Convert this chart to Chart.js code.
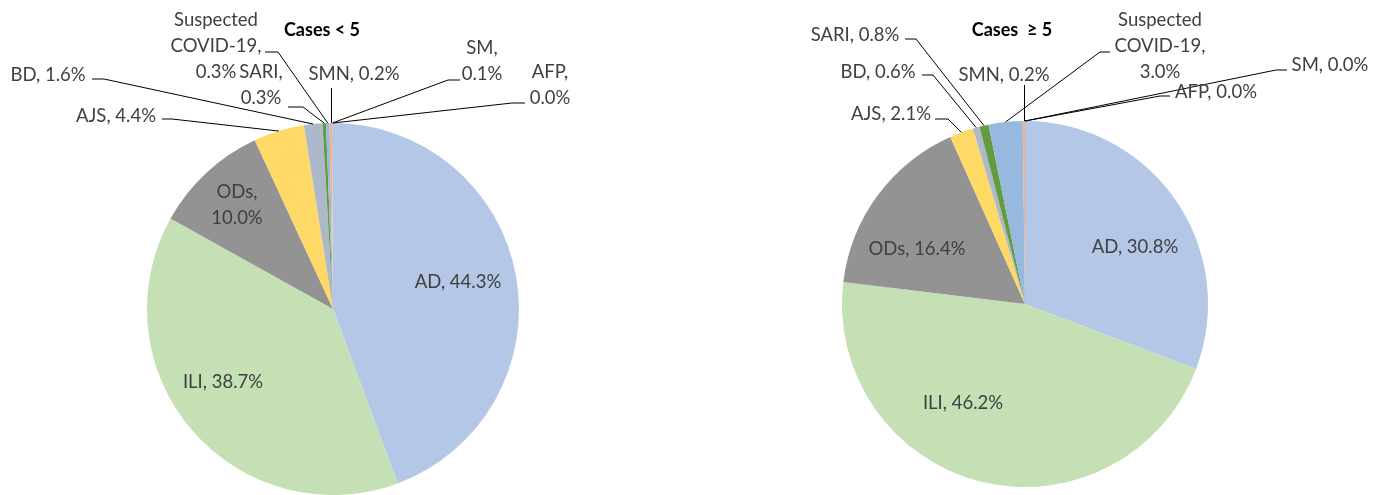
<!DOCTYPE html>
<html>
<head>
<meta charset="utf-8">
<script src="https://cdn.jsdelivr.net/npm/chart.js@4.4.1/dist/chart.umd.min.js"></script>
<style>
  html, body { margin: 0; padding: 0; background: #fff; }
  #wrap { position: relative; width: 1380px; height: 495px; }
  #wrap canvas { position: absolute; left: 0; top: 0; }
</style>
</head>
<body>
<div id="wrap">
  <canvas id="pieUnder5" width="1380" height="495"></canvas>
  <canvas id="pieOver5" width="1380" height="495"></canvas>
</div>
<script>
// data (percent of cases)
const categories = ['AD', 'ILI', 'ODs', 'AJS', 'BD', 'SARI', 'Suspected COVID-19', 'SMN', 'SM', 'AFP'];
const casesUnder5 = [44.3, 38.7, 10.0, 4.4, 1.6, 0.3, 0.3, 0.2, 0.1, 0.0];
const casesOver5 = [30.8, 46.2, 16.4, 2.1, 0.6, 0.8, 3.0, 0.2, 0.0, 0.0];
const chartTitles = ['Cases < 5', 'Cases  \u2265 5'];

const sliceColors = ['#B4C7E7', '#C5E0B4', '#939393', '#FFD966', '#ADB9CA',
                     '#639B3F', '#97B9E0', '#F4B183', '#C9C9C9', '#FFE699'];

const FONT = 'Lato, "Open Sans", sans-serif';
const LINE = 26;

// label placement: x = text centre, y = centre of first line
// split: 0 one line, 1 name / value, 2 every word on its own line
// stub: [x1, x2, y] short horizontal piece before the leader goes to the slice
// down: leader drops from this y straight to the slice
const layoutUnder5 = [
  { x: 458, y: 282 },
  { x: 223, y: 382 },
  { x: 237, y: 192, split: 1 },
  { x: 116, y: 116, stub: [162, 172, 119] },
  { x: 48, y: 75, stub: [92, 104, 79] },
  { x: 261, y: 72, split: 1, stub: [288, 303, 107] },
  { x: 216, y: 20, split: 2, stub: [265, 278, 52] },
  { x: 354, y: 74, down: 88 },
  { x: 482, y: 48, split: 1, stub: [460, 448, 80] },
  { x: 550, y: 72, split: 1, stub: [525, 512, 103] }
];
const layoutOver5 = [
  { x: 1135, y: 247 },
  { x: 963, y: 403 },
  { x: 917, y: 249 },
  { x: 891, y: 114, stub: [935, 948, 119] },
  { x: 878, y: 72, stub: [922, 933, 75] },
  { x: 855, y: 35, stub: [905, 916, 39] },
  { x: 1160, y: 20, split: 2, stub: [1110, 1100, 52] },
  { x: 1004, y: 75, down: 85 },
  { x: 1330, y: 65, stub: [1287, 1276, 70] },
  { x: 1216, y: 92, stub: [1170, 1160, 96] }
];

function labelLines(name, value, split) {
  const pct = value.toFixed(1) + '%';
  if (split === 1) return [name + ',', pct];
  if (split === 2) {
    const words = name.split(' ');
    words[words.length - 1] += ',';
    return words.concat([pct]);
  }
  return [name + ', ' + pct];
}

const pieLabels = {
  id: 'pieLabels',
  afterDraw(chart, args, opts) {
    const ctx = chart.ctx;
    const meta = chart.getDatasetMeta(0);
    const values = chart.data.datasets[0].data;
    ctx.save();
    ctx.textAlign = 'center';
    ctx.textBaseline = 'middle';

    ctx.fillStyle = '#000';
    ctx.font = 'bold 18px ' + FONT;
    ctx.fillText(opts.title, opts.titleX, opts.titleY);

    ctx.font = '18.5px ' + FONT;
    ctx.strokeStyle = '#000';
    ctx.lineWidth = 1;
    opts.layout.forEach((lab, i) => {
      const arc = meta.data[i];
      const lines = labelLines(chart.data.labels[i], values[i], lab.split || 0);
      ctx.fillStyle = '#404040';
      lines.forEach((t, k) => ctx.fillText(t, lab.x, lab.y + k * LINE));

      const mid = (arc.startAngle + arc.endAngle) / 2;
      const ax = arc.x + Math.cos(mid) * arc.outerRadius;
      const ay = arc.y + Math.sin(mid) * arc.outerRadius;
      ctx.beginPath();
      if (lab.stub) {
        ctx.moveTo(lab.stub[0], lab.stub[2]);
        ctx.lineTo(lab.stub[1], lab.stub[2]);
        ctx.lineTo(ax, ay);
        ctx.stroke();
      } else if (lab.down) {
        ctx.moveTo(Math.round(ax) + 0.5, lab.down);
        ctx.lineTo(Math.round(ax) + 0.5, ay);
        ctx.stroke();
      }
    });
    ctx.restore();
  }
};

function makePie(id, values, title, titleX, layout, padding) {
  return new Chart(document.getElementById(id), {
    type: 'pie',
    data: {
      labels: categories,
      datasets: [{
        data: values,
        backgroundColor: sliceColors,
        borderWidth: 0
      }]
    },
    options: {
      responsive: false,
      animation: false,
      layout: { padding: padding },
      plugins: {
        legend: { display: false },
        tooltip: { enabled: false },
        pieLabels: { title: title, titleX: titleX, titleY: 30, layout: layout }
      }
    },
    plugins: [pieLabels]
  });
}

makePie('pieUnder5', casesUnder5, chartTitles[0], 322, layoutUnder5,
        { top: 123, bottom: 0, left: 0, right: 714 });
makePie('pieOver5', casesOver5, chartTitles[1], 1012, layoutOver5,
        { top: 121, bottom: 8, left: 670, right: 0 });
</script>
</body>
</html>
